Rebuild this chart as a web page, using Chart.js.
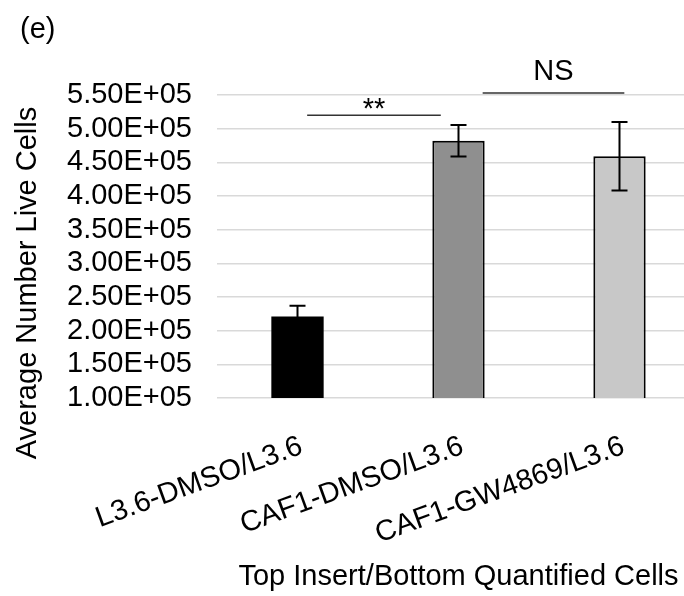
<!DOCTYPE html>
<html>
<head>
<meta charset="utf-8">
<script src="https://cdn.jsdelivr.net/npm/chart.js@4.4.0/dist/chart.umd.min.js"></script>
<style>
  html, body { margin: 0; padding: 0; background: #fff; overflow: hidden; }
  #wrap { width: 704px; height: 596px; }
</style>
</head>
<body>
<div id="wrap"><canvas id="myChart"></canvas></div>
<script>
// groups and measured means with their error (SD)
const groups = ['L3.6-DMSO/L3.6', 'CAF1-DMSO/L3.6', 'CAF1-GW4869/L3.6'];
const meanCells = [2.21e5, 4.82e5, 4.59e5];
const errCells = [0.16e5, 0.235e5, 0.51e5];
const barColors = ['#000000', '#8f8f8f', '#c8c8c8'];

// significance brackets: label, span (category index), line level, label level
const sigText = ['**', 'NS'];
const sigFrom = [0.06, 1.15];
const sigTo = [0.89, 2.03];
const sigLine = [5.20e5, 5.53e5];
const sigTextAt = [5.16e5, 5.72e5];

const FONT = "'Liberation Sans', Arial, sans-serif";

function sci(v) {
	let e = Math.floor(Math.log10(Math.abs(v)) + 1e-9);
	let m = v / Math.pow(10, e);
	return m.toFixed(2) + 'E' + (e < 0 ? '-' : '+') + String(Math.abs(e)).padStart(2, '0');
}

const extras = {
	id: 'extras',
	afterDatasetsDraw(chart) {
		const ctx = chart.ctx;
		const x = chart.scales.x, y = chart.scales.y;
		ctx.save();

		// error bars
		ctx.strokeStyle = '#000';
		ctx.lineWidth = 2;
		meanCells.forEach((m, i) => {
			const cx = x.getPixelForValue(i);
			const top = y.getPixelForValue(m + errCells[i]);
			const bot = y.getPixelForValue(m - errCells[i]);
			ctx.beginPath();
			ctx.moveTo(cx, top); ctx.lineTo(cx, bot);
			ctx.moveTo(cx - 8, top); ctx.lineTo(cx + 8, top);
			ctx.moveTo(cx - 8, bot); ctx.lineTo(cx + 8, bot);
			ctx.stroke();
		});

		// significance lines and labels
		ctx.strokeStyle = '#333';
		ctx.lineWidth = 1.5;
		ctx.fillStyle = '#000';
		ctx.font = '29px ' + FONT;
		ctx.textAlign = 'center';
		ctx.textBaseline = 'alphabetic';
		sigText.forEach((t, i) => {
			const x0 = x.getPixelForValue(sigFrom[i]);
			const x1 = x.getPixelForValue(sigTo[i]);
			const ly = y.getPixelForValue(sigLine[i]);
			ctx.beginPath();
			ctx.moveTo(x0, ly); ctx.lineTo(x1, ly);
			ctx.stroke();
			ctx.fillText(t, (x0 + x1) / 2, y.getPixelForValue(sigTextAt[i]));
		});
		ctx.restore();
	},
	afterDraw(chart) {
		const ctx = chart.ctx;
		ctx.save();
		ctx.fillStyle = '#000';
		ctx.font = '29px ' + FONT;
		ctx.textAlign = 'left';
		ctx.textBaseline = 'middle';
		ctx.fillText('(e)', 20, 30);

		// y axis title
		ctx.translate(28, 283);
		ctx.rotate(-Math.PI / 2);
		ctx.textAlign = 'center';
		ctx.fillText('Average Number Live Cells', 0, 0);
		ctx.restore();
	}
};

function createBarChart(elID) {
	let ctx = document.getElementById(elID).getContext('2d');
	return new Chart(ctx, {
		type: 'bar',
		data: {
			labels: groups,
			datasets: [{
				data: meanCells,
				backgroundColor: barColors,
				borderColor: '#000',
				borderWidth: [0, 2, 2],
				categoryPercentage: 1,
				barPercentage: 0.325
			}]
		},
		options: {
			responsive: true,
			maintainAspectRatio: false,
			animation: false,
			layout: { padding: { top: 95, right: 4, left: 0, bottom: 0 } },
			plugins: {
				legend: { display: false },
				tooltip: { enabled: false }
			},
			scales: {
				x: {
					grid: { display: false, drawTicks: false },
					border: { display: false },
					ticks: {
						color: '#000',
						font: { family: FONT, size: 29 },
						minRotation: 20,
						maxRotation: 20,
						autoSkip: false,
						padding: 31,
						labelOffset: 4
					},
					title: {
						display: true,
						text: 'Top Insert/Bottom Quantified Cells',
						color: '#000',
						font: { family: FONT, size: 29 },
						padding: { top: 0, bottom: 2 }
					},
					afterFit(scale) { scale.height = 198; }
				},
				y: {
					min: 1.0e5,
					max: 5.5e5,
					grid: { color: '#d9d9d9', lineWidth: 1.5, drawTicks: false },
					border: { display: false },
					ticks: {
						stepSize: 0.5e5,
						autoSkip: false,
						color: '#000',
						font: { family: FONT, size: 29 },
						padding: 25,
						callback: (v) => sci(v)
					},
					afterFit(scale) { scale.width = 217; }
				}
			}
		},
		plugins: [extras]
	});
}

createBarChart('myChart');
</script>
</body>
</html>
